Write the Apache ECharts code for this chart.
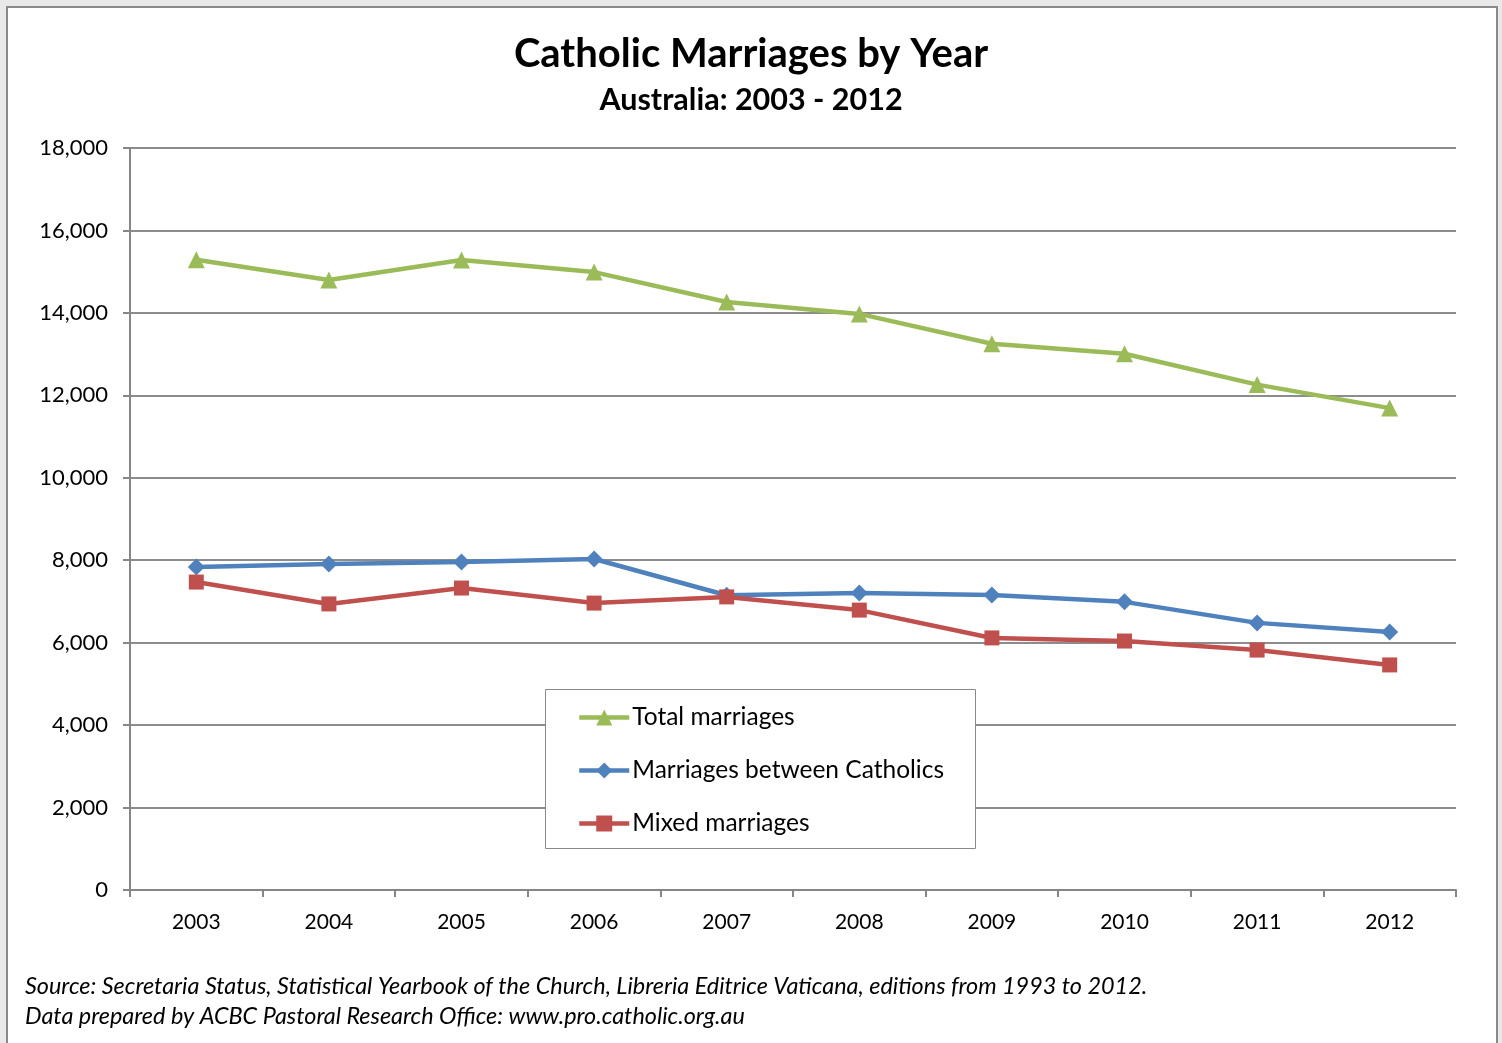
<!DOCTYPE html>
<html><head><meta charset="utf-8">
<script src="https://cdn.jsdelivr.net/npm/echarts@6/dist/echarts.min.js"></script>
<style>html,body{margin:0;padding:0;background:#e9e9e9;}#c{width:1502px;height:1043px;}</style>
</head><body><div id="c"></div>
<script>
const years = ['2003','2004','2005','2006','2007','2008','2009','2010','2011','2012'];
const totalMarriages = [15290, 14800, 15285, 14990, 14265, 13975, 13250, 13010, 12260, 11690];
const catholicMarriages = [7835, 7910, 7955, 8030, 7150, 7205, 7155, 6990, 6480, 6260];
const mixedMarriages = [7470, 6940, 7325, 6960, 7110, 6790, 6115, 6040, 5820, 5460];
const seriesNames = ['Total marriages', 'Marriages between Catholics', 'Mixed marriages'];
const yTicks = [0, 2000, 4000, 6000, 8000, 10000, 12000, 14000, 16000, 18000];

const FONT = 'Lato, "Open Sans", sans-serif';
const chart = echarts.init(document.getElementById('c'));
chart.setOption({
  backgroundColor: '#e9e9e9',
  animation: false,
  textStyle: { fontFamily: FONT },
  graphic: [
    { type: 'rect', shape: { x: 7, y: 7, width: 1490, height: 1050 }, style: { fill: '#ffffff', stroke: '#8a8a8a', lineWidth: 2 }, z: -10 },
    { type: 'rect', shape: { x: 545.5, y: 689.5, width: 430, height: 159 }, style: { fill: '#ffffff', stroke: '#8a8a8a', lineWidth: 1 }, z: 5 },
    { type: 'text', left: 25, top: 975, style: { text: 'Source: Secretaria Status, Statistical Yearbook of the Church, Libreria Editrice Vaticana, editions from 1993 to 2012.', font: 'italic 23.4px ' + FONT, fill: '#000' } },
    { type: 'text', left: 25, top: 1005, style: { text: 'Data prepared by ACBC Pastoral Research Office: www.pro.catholic.org.au', font: 'italic 23.4px ' + FONT, fill: '#000' } }
  ],
  title: {
    text: 'Catholic Marriages by Year',
    subtext: 'Australia: 2003 - 2012',
    left: 'center', top: 29,
    itemGap: 11,
    textStyle: { fontFamily: FONT, fontSize: 40, fontWeight: 'bold', color: '#000' },
    subtextStyle: { fontFamily: FONT, fontSize: 30.5, fontWeight: 'bold', color: '#000' }
  },
  legend: {
    orient: 'vertical', left: 572, top: 700, itemGap: 28,
    itemWidth: 50, itemHeight: 20,
    z: 10,
    lineStyle: { width: 4.5 },
    textStyle: { fontFamily: FONT, fontSize: 24.5, color: '#000', padding: [0,0,0,-2] },
    data: seriesNames
  },
  grid: { left: 130, right: 46, top: 148, bottom: 153 },
  xAxis: {
    type: 'category', data: years, boundaryGap: true,
    axisLine: { lineStyle: { color: '#868686', width: 2 } },
    axisTick: { show: true, length: 7, lineStyle: { color: '#868686', width: 2 } },
    axisLabel: { color: '#000', fontSize: 21, margin: 22, fontFamily: FONT }
  },
  yAxis: {
    type: 'value', min: 0, max: 18000, interval: 2000,
    axisLine: { show: true, lineStyle: { color: '#868686', width: 2 } },
    axisTick: { show: true, length: 7, lineStyle: { color: '#868686', width: 2 } },
    splitLine: { lineStyle: { color: '#8c8c8c', width: 2 } },
    axisLabel: { color: '#000', fontSize: 22, margin: 22, fontFamily: FONT,
      formatter: v => yTicks.includes(v) ? v.toLocaleString('en-US') : '' }
  },
  series: [
    { name: seriesNames[0], type: 'line', data: totalMarriages, symbol: 'triangle', symbolSize: 17,
      itemStyle: { color: '#9BBB59' }, lineStyle: { color: '#9BBB59', width: 4.5 }, z: 3 },
    { name: seriesNames[1], type: 'line', data: catholicMarriages, symbol: 'diamond', symbolSize: 17,
      itemStyle: { color: '#4F81BD' }, lineStyle: { color: '#4F81BD', width: 4.5 }, z: 3 },
    { name: seriesNames[2], type: 'line', data: mixedMarriages, symbol: 'rect', symbolSize: 15,
      itemStyle: { color: '#C0504D' }, lineStyle: { color: '#C0504D', width: 4.5 }, z: 4 }
  ]
});
</script></body></html>
